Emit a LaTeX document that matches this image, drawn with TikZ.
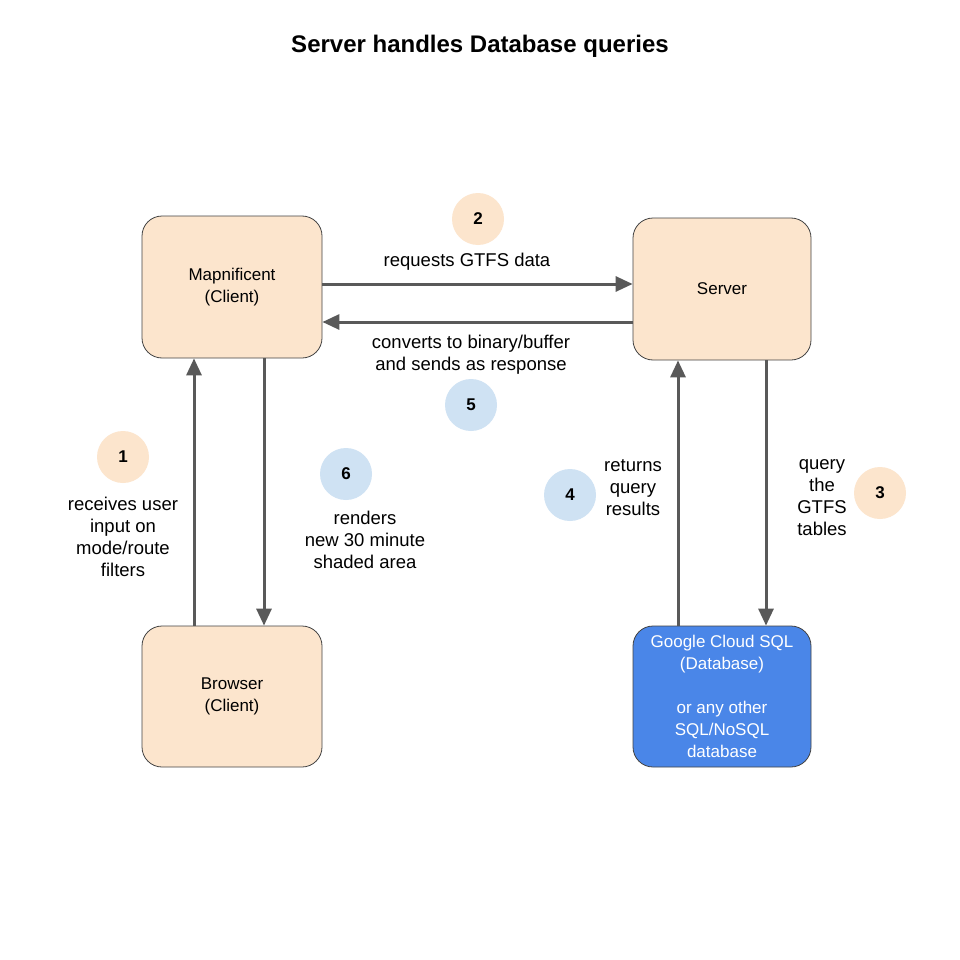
\documentclass[tikz,border=0pt]{standalone}
\usepackage{fontspec}
\setmainfont{Liberation Sans}
\usetikzlibrary{arrows.meta}
\definecolor{peach}{HTML}{FCE5CD}
\definecolor{lblue}{HTML}{CFE2F3}
\definecolor{dbblue}{HTML}{4A86E8}
\definecolor{arrgray}{HTML}{595959}
\definecolor{edge}{HTML}{434343}
\tikzset{
  box/.style={draw=edge, line width=0.8pt, rounded corners=20pt, minimum width=180pt, minimum height=142pt, align=center, font=\fontsize{17}{22}\selectfont, inner sep=0pt},
  badge/.style={circle, minimum size=52pt, inner sep=0pt, font=\fontsize{17}{20}\selectfont\bfseries},
  lbl/.style={align=center, font=\fontsize{18.5}{22}\selectfont, inner sep=0pt},
  arr/.style={draw=arrgray, line width=3pt, -{Triangle[length=17pt,width=15pt]}},
}
\begin{document}
\begin{tikzpicture}[x=1pt,y=-1pt]
\useasboundingbox[fill=white] (0,0) rectangle (960,960);
\node[font=\fontsize{24}{28}\selectfont\bfseries] (title) at (480,46) {Server handles Database queries};
\node[box, fill=peach] (map) at (232,287) {Mapnificent\\(Client)};
\node[box, fill=peach, minimum width=178pt] (server) at (722,289) {Server};
\node[box, fill=peach, minimum height=141pt] (browser) at (232,696.5) {Browser\\(Client)};
\node[box, fill=dbblue, text=white, minimum width=178pt, minimum height=141pt] (db) at (722,696.5) {Google Cloud SQL\\(Database)\\[22pt]or any other\\SQL/NoSQL\\database};
% arrows
\draw[arr] ([yshift=3pt]map.east) -- ([yshift=3pt]map.east -| server.west);
\draw[arr] ([yshift=-35pt]map.east -| server.west) -- ([yshift=-35pt]map.east);
\draw[arr] ([xshift=-38pt]browser.north) -- ([xshift=-38pt]map.south);
\draw[arr] ([xshift=32pt]map.south) -- ([xshift=32pt]browser.north);
\draw[arr] ([xshift=-44pt]db.north) -- ([xshift=-44pt]db.north |- server.south);
\draw[arr] ([xshift=44pt]db.north |- server.south) -- ([xshift=44pt]db.north);
% badges
\node[badge, fill=peach] (b1) at (123,457) {1};
\node[badge, fill=peach] (b2) at (478,219) {2};
\node[badge, fill=peach] (b3) at (880,493) {3};
\node[badge, fill=lblue] (b4) at (570,495) {4};
\node[badge, fill=lblue] (b5) at (471,405) {5};
\node[badge, fill=lblue] (b6) at (346,474) {6};
% labels
\node[lbl] (l2) at (467,262) {requests GTFS data};
\node[lbl] (l5) at (471,355) {converts to binary/buffer\\and sends as response};
\node[lbl] (l1) at (123,537) {receives user\\input on\\mode/route\\filters};
\node[lbl] (l6) at (365,540) {renders\\new 30 minute\\shaded area};
\node[lbl] (l4) at (633,488) {returns\\query\\results};
\node[lbl] (l3) at (822,498) {query\\the\\GTFS\\tables};
\end{tikzpicture}
\end{document}
